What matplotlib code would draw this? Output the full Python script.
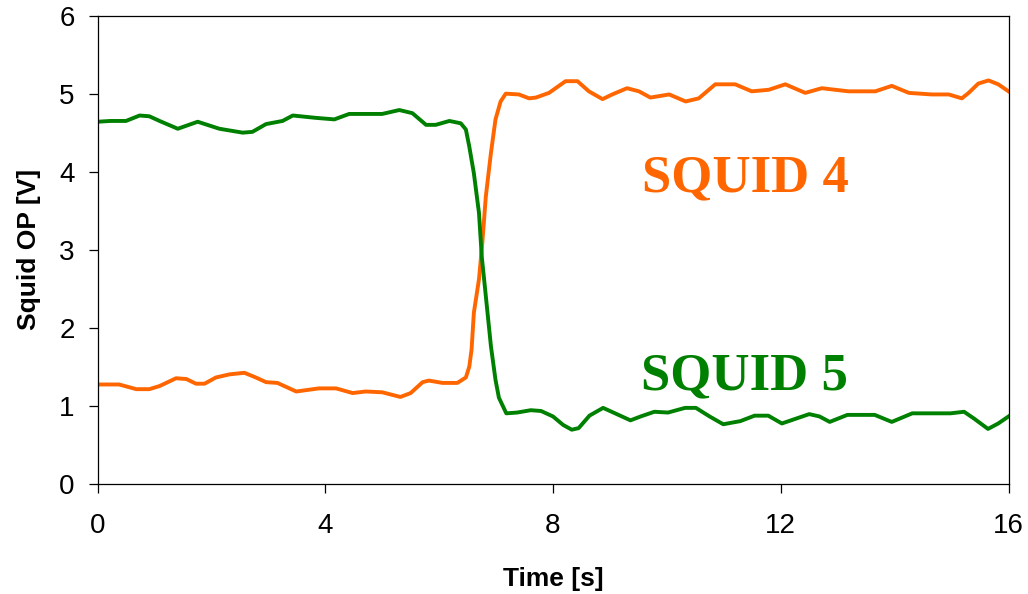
import matplotlib
matplotlib.use('Agg')
import matplotlib.pyplot as plt

# SQUID 4 (orange)
t_sq4 = [0.00, 0.38, 0.68, 0.91, 1.09, 1.38, 1.56, 1.73, 1.88, 2.08, 2.32, 2.58,
         2.78, 2.96, 3.16, 3.49, 3.89, 4.19, 4.48, 4.71, 5.00, 5.32, 5.50, 5.71,
         5.82, 6.06, 6.32, 6.47, 6.53, 6.57, 6.61, 6.70, 6.76, 6.82, 6.91, 6.99,
         7.08, 7.17, 7.40, 7.58, 7.70, 7.93, 8.22, 8.43, 8.63, 8.87, 9.04, 9.30,
         9.51, 9.71, 10.04, 10.33, 10.56, 10.85, 11.20, 11.49, 11.79, 12.08,
         12.43, 12.72, 13.19, 13.66, 13.95, 14.25, 14.65, 14.95, 15.18, 15.30,
         15.47, 15.65, 15.82, 16.00]
v_sq4 = [1.27, 1.27, 1.21, 1.21, 1.25, 1.35, 1.34, 1.28, 1.28, 1.36, 1.40, 1.42,
         1.36, 1.30, 1.29, 1.18, 1.22, 1.22, 1.16, 1.18, 1.17, 1.11, 1.16, 1.30,
         1.32, 1.29, 1.29, 1.36, 1.50, 1.72, 2.19, 2.62, 3.10, 3.68, 4.24, 4.67,
         4.90, 5.00, 4.99, 4.94, 4.95, 5.01, 5.16, 5.16, 5.03, 4.93, 4.99, 5.07,
         5.03, 4.95, 4.99, 4.90, 4.94, 5.12, 5.12, 5.03, 5.05, 5.12,
         5.01, 5.07, 5.03, 5.03, 5.10, 5.01, 4.99, 4.99, 4.94, 5.01,
         5.13, 5.17, 5.12, 5.03]

# SQUID 5 (green)
t_sq5 = [0.00, 0.23, 0.50, 0.74, 0.91, 1.09, 1.41, 1.76, 2.14, 2.55, 2.72, 2.96,
         3.25, 3.43, 3.83, 4.16, 4.42, 5.00, 5.30, 5.53, 5.77, 5.94, 6.18, 6.38,
         6.47, 6.53, 6.61, 6.70, 6.75, 6.79, 6.85, 6.91, 6.99, 7.05, 7.18, 7.37,
         7.61, 7.79, 8.00, 8.18, 8.33, 8.45, 8.64, 8.88, 9.12, 9.36, 9.54, 9.78,
         10.02, 10.32, 10.51, 10.75, 10.99, 11.29, 11.54, 11.78, 12.02, 12.26,
         12.50, 12.68, 12.86, 13.17, 13.65, 13.95, 14.31, 14.98, 15.22, 15.40,
         15.64, 15.82, 16.00]
v_sq5 = [4.64, 4.65, 4.65, 4.72, 4.71, 4.65, 4.55, 4.64, 4.55, 4.50, 4.51, 4.61,
         4.65, 4.72, 4.69, 4.67, 4.74, 4.74, 4.79, 4.75, 4.60, 4.60, 4.65, 4.62,
         4.54, 4.32, 3.98, 3.47, 2.90, 2.62, 2.19, 1.76, 1.33, 1.10, 0.90, 0.91,
         0.94, 0.93, 0.86, 0.75, 0.69, 0.71, 0.87, 0.97, 0.89, 0.81, 0.86, 0.92,
         0.91, 0.97, 0.97, 0.86, 0.76, 0.80, 0.87, 0.87, 0.77, 0.83,
         0.89, 0.86, 0.79, 0.88, 0.88, 0.79, 0.90, 0.90, 0.92, 0.83,
         0.70, 0.77, 0.86]

x_ticks = [0, 4, 8, 12, 16]
y_ticks = [0, 1, 2, 3, 4, 5, 6]

ORANGE = '#ff6600'
GREEN = '#008000'

plt.rcParams['font.family'] = ['Liberation Sans', 'DejaVu Sans']

fig = plt.figure(figsize=(10.28, 5.94), dpi=100)
ax = fig.add_axes([97.5 / 1028, 1 - 483.5 / 594, 911 / 1028, 467.8 / 594])

ax.plot(t_sq4, v_sq4, color=ORANGE, lw=2.8, solid_joinstyle='round')
ax.plot(t_sq5, v_sq5, color=GREEN, lw=2.8, solid_joinstyle='round')

ax.text(9.56, 3.74, 'SQUID 4', color=ORANGE, fontsize=38, fontweight='bold',
        family='Liberation Serif', ha='left', va='baseline')
ax.text(9.54, 1.21, 'SQUID 5', color=GREEN, fontsize=38, fontweight='bold',
        family='Liberation Serif', ha='left', va='baseline')

ax.set_xlim(0, 16)
ax.set_ylim(0, 6)
ax.set_xticks(x_ticks)
ax.set_yticks(y_ticks)
ax.tick_params(direction='out', length=6.5, width=0.9, labelsize=20)
ax.tick_params(axis='x', pad=15)
ax.tick_params(axis='y', pad=10)
for s in ax.spines.values():
    s.set_linewidth(0.9)
    s.set_color('black')

ax.set_xlabel('Time [s]', fontsize=19, fontweight='bold', labelpad=20)
ax.set_ylabel('Squid OP [V]', fontsize=19, fontweight='bold', labelpad=13)

fig.savefig('out.png', dpi=100)
